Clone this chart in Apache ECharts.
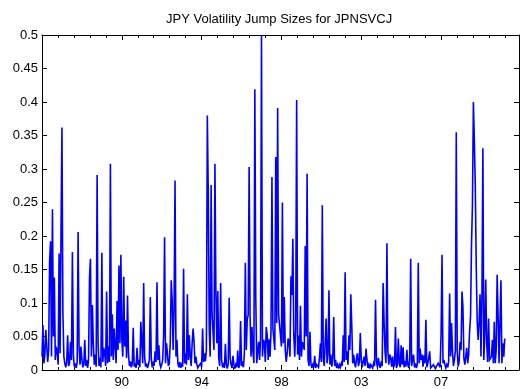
<!DOCTYPE html>
<html>
<head>
<meta charset="utf-8">
<script src="https://cdn.jsdelivr.net/npm/echarts@6/dist/echarts.min.js"></script>
<style>
  html, body { margin: 0; padding: 0; background: #ffffff; }
  #chart { width: 520px; height: 389px; }
</style>
</head>
<body>
<div id="chart"></div>
<script>
// Estimated volatility jump sizes of the JPY model, one value per observation.
const chartTitle = 'JPY Volatility Jump Sizes for JPNSVCJ';
const startYear = 1986.3;   // date of the first observation (decimal year)
const stepYears = 0.05;     // spacing between observations, in years
const axisSpanYears = 25.1; // length of the time axis, in years
const majorTickYears = 4.2; // years between labelled ticks
const xTickLabels = ['90', '94', '98', '03', '07'];
const yTickValues = [0, 0.05, 0.1, 0.15, 0.2, 0.25, 0.3, 0.35, 0.4, 0.45, 0.5];

const jumpSizes = [
  0.02, 0.067, 0.01, 0.023, 0.06, 0.058, 0.012, 0.03, 0.162, 0.192,
  0.02, 0.24, 0.05, 0.138, 0.015, 0.033, 0.03, 0.008, 0.174, 0.025,
  0.203, 0.362, 0.085, 0.02, 0.01, 0.004, 0.012, 0.052, 0.006, 0.01,
  0.042, 0.015, 0.176, 0.023, 0.005, 0.01, 0.003, 0.012, 0.206, 0.035,
  0.008, 0.035, 0.015, 0.004, 0.009, 0.045, 0.006, 0.015, 0.003, 0.015,
  0.138, 0.166, 0.02, 0.097, 0.04, 0.008, 0.023, 0.005, 0.291, 0.04,
  0.006, 0.018, 0.004, 0.175, 0.012, 0.033, 0.025, 0.006, 0.117, 0.01,
  0.035, 0.012, 0.308, 0.02, 0.083, 0.015, 0.062, 0.035, 0.01, 0.103,
  0.03, 0.156, 0.04, 0.172, 0.047, 0.02, 0.139, 0.035, 0.074, 0.018,
  0.111, 0.025, 0.006, 0.013, 0.004, 0.009, 0.063, 0.005, 0.01, 0.003,
  0.033, 0.007, 0.015, 0.004, 0.072, 0.043, 0.01, 0.13, 0.02, 0.005,
  0.01, 0.003, 0.008, 0.015, 0.109, 0.018, 0.004, 0.01, 0.006, 0.028,
  0.012, 0.131, 0.015, 0.037, 0.01, 0.004, 0.008, 0.015, 0.052, 0.198,
  0.01, 0.04, 0.025, 0.006, 0.01, 0.042, 0.134, 0.104, 0.03, 0.092,
  0.283, 0.02, 0.045, 0.01, 0.004, 0.012, 0.003, 0.008, 0.005, 0.151,
  0.01, 0.025, 0.008, 0.113, 0.015, 0.052, 0.02, 0.006, 0.04, 0.062,
  0.042, 0.01, 0.02, 0.008, 0.003, 0.006, 0.008, 0.01, 0.004, 0.062,
  0.012, 0.025, 0.013, 0.03, 0.38, 0.261, 0.062, 0.02, 0.276, 0.083,
  0.082, 0.03, 0.308, 0.117, 0.04, 0.118, 0.018, 0.006, 0.13, 0.015,
  0.004, 0.008, 0.003, 0.039, 0.008, 0.002, 0.01, 0.108, 0.018, 0.008,
  0.003, 0.021, 0.008, 0.002, 0.008, 0.004, 0.029, 0.003, 0.008, 0.073,
  0.006, 0.013, 0.004, 0.025, 0.16, 0.03, 0.076, 0.082, 0.303, 0.08,
  0.02, 0.064, 0.028, 0.01, 0.419, 0.107, 0.01, 0.028, 0.042, 0.015,
  0.047, 0.5, 0.02, 0.045, 0.042, 0.012, 0.064, 0.052, 0.015, 0.046,
  0.02, 0.058, 0.288, 0.062, 0.062, 0.03, 0.318, 0.07, 0.391, 0.083,
  0.082, 0.083, 0.035, 0.25, 0.04, 0.109, 0.03, 0.012, 0.025, 0.047,
  0.042, 0.02, 0.14, 0.112, 0.196, 0.052, 0.02, 0.062, 0.403, 0.023,
  0.052, 0.015, 0.096, 0.02, 0.042, 0.042, 0.03, 0.185, 0.05, 0.293,
  0.015, 0.006, 0.057, 0.01, 0.003, 0.008, 0.004, 0.021, 0.003, 0.008,
  0.01, 0.004, 0.018, 0.04, 0.012, 0.246, 0.018, 0.006, 0.04, 0.077,
  0.01, 0.023, 0.119, 0.008, 0.023, 0.005, 0.018, 0.079, 0.006, 0.015,
  0.003, 0.008, 0.002, 0.008, 0.004, 0.01, 0.006, 0.052, 0.012, 0.146,
  0.015, 0.028, 0.008, 0.052, 0.03, 0.113, 0.067, 0.01, 0.023, 0.01,
  0.004, 0.018, 0.025, 0.006, 0.012, 0.055, 0.015, 0.004, 0.013, 0.02,
  0.006, 0.032, 0.015, 0.003, 0.008, 0.002, 0.008, 0.01, 0.003, 0.01,
  0.006, 0.105, 0.013, 0.004, 0.018, 0.008, 0.003, 0.013, 0.006, 0.13,
  0.072, 0.028, 0.01, 0.189, 0.028, 0.008, 0.023, 0.018, 0.005, 0.02,
  0.004, 0.008, 0.064, 0.003, 0.008, 0.047, 0.01, 0.004, 0.037, 0.008,
  0.034, 0.004, 0.01, 0.005, 0.03, 0.008, 0.003, 0.015, 0.166, 0.006,
  0.015, 0.023, 0.004, 0.01, 0.003, 0.008, 0.16, 0.01, 0.032, 0.015,
  0.023, 0.005, 0.022, 0.01, 0.075, 0.004, 0.01, 0.018, 0.028, 0.003,
  0.005, 0.002, 0.008, 0.008, 0.002, 0.005, 0.003, 0.01, 0.008, 0.004,
  0.055, 0.172, 0.01, 0.015, 0.008, 0.003, 0.008, 0.004, 0.013, 0.114,
  0.02, 0.07, 0.028, 0.006, 0.015, 0.028, 0.355, 0.028, 0.005, 0.013,
  0.042, 0.03, 0.117, 0.094, 0.018, 0.008, 0.02, 0.033, 0.01, 0.023,
  0.057, 0.08, 0.186, 0.246, 0.4, 0.343, 0.275, 0.155, 0.073, 0.045,
  0.072, 0.113, 0.02, 0.112, 0.331, 0.015, 0.055, 0.135, 0.04, 0.012,
  0.077, 0.015, 0.013, 0.02, 0.045, 0.01, 0.072, 0.01, 0.03, 0.142,
  0.082, 0.01, 0.012, 0.134, 0.01, 0.04, 0.02, 0.047
];

// Pair each observation with its time offset (years since the first one).
const seriesData = jumpSizes.map((v, i) => [i * stepYears, v]);

const FONT = "'Liberation Sans', Arial, Helvetica, sans-serif";
const BLACK = '#000000';

function xLabel(v) {
  const k = Math.round(v / majorTickYears) - 1;
  return (k >= 0 && k < xTickLabels.length) ? xTickLabels[k] : '';
}
function yLabel(v) {
  const t = yTickValues.find(y => Math.abs(y - v) < 1e-9);
  return t === undefined ? '' : String(t);
}

const xBase = {
  type: 'value',
  min: 0,
  max: axisSpanYears,
  interval: majorTickYears,
  splitLine: { show: false },
  axisLine: { show: true, onZero: false, lineStyle: { color: BLACK, width: 1 } },
  axisTick: { show: true, inside: true, length: 5, lineStyle: { color: BLACK, width: 1 } },
  minorTick: { show: true, splitNumber: 5, length: 3, lineStyle: { color: BLACK, width: 1 } }
};
const yBase = {
  type: 'value',
  min: 0,
  max: 0.5,
  interval: 0.05,
  splitLine: { show: false },
  axisLine: { show: true, onZero: false, lineStyle: { color: BLACK, width: 1 } },
  axisTick: { show: true, inside: true, length: 5, lineStyle: { color: BLACK, width: 1 } }
};

const chart = echarts.init(document.getElementById('chart'), null, { renderer: 'canvas' });
chart.setOption({
  animation: false,
  backgroundColor: '#ffffff',
  title: {
    text: chartTitle,
    left: 166,
    top: 13,
    padding: 0,
    textStyle: { fontFamily: FONT, fontSize: 13, fontWeight: 'normal', color: BLACK }
  },
  grid: { left: 42, right: 1, top: 35, bottom: 17, containLabel: false },
  xAxis: [
    Object.assign({}, xBase, {
      position: 'bottom',
      axisLabel: {
        show: true, margin: 6, showMinLabel: false, showMaxLabel: false,
        fontFamily: FONT, fontSize: 13, color: BLACK, formatter: xLabel
      }
    }),
    Object.assign({}, xBase, { position: 'top', axisLabel: { show: false } })
  ],
  yAxis: [
    Object.assign({}, yBase, {
      position: 'left',
      axisLabel: { show: true, margin: 4, fontFamily: FONT, fontSize: 13, color: BLACK, formatter: yLabel }
    }),
    Object.assign({}, yBase, { position: 'right', axisLabel: { show: false } })
  ],
  series: [{
    type: 'line',
    xAxisIndex: 0,
    yAxisIndex: 0,
    data: seriesData,
    showSymbol: false,
    symbol: 'none',
    sampling: null,
    clip: true,
    lineStyle: { color: '#0000ff', width: 1.6, join: 'miter', miterLimit: 4 }
  }]
});
</script>
</body>
</html>
